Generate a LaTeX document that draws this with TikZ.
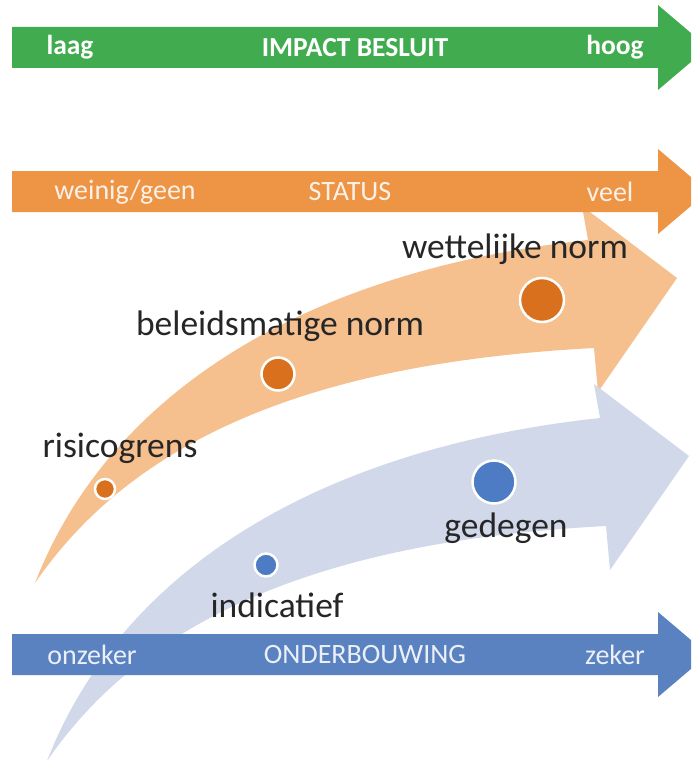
\documentclass[tikz,border=0pt]{standalone}
\usepackage{fontspec}
\setmainfont{Carlito}
\definecolor{impactgreen}{HTML}{40AC4F}
\definecolor{statusorange}{HTML}{ED9445}
\definecolor{lightorange}{HTML}{F5BF8E}
\definecolor{darkorange}{HTML}{D9701E}
\definecolor{basisblue}{HTML}{5B82C0}
\definecolor{lightblue}{HTML}{D0D8E9}
\definecolor{dotblue}{HTML}{4E7CC4}
% straight bar with head: centre y, colour
\newcommand{\bararrow}[2]{%
  \fill[#2] (12,#1-20.5) -- (658,#1-20.5) -- (658,#1-42.5) -- (708,#1)
    -- (658,#1+42.5) -- (658,#1+20.5) -- (12,#1+20.5) -- cycle;}
\begin{document}
\begin{tikzpicture}[x=1pt,y=-1pt,
  bartext/.style={text=white,text opacity=0.88,font=\fontsize{28}{30}\selectfont},
  boldtext/.style={text=white,font=\bfseries\fontsize{27.5}{30}\selectfont},
  normtext/.style={text=black!85,font=\fontsize{35.5}{38}\selectfont},
  odot/.style={circle,fill=darkorange,draw=white,line width=2.5pt,inner sep=0pt},
  bdot/.style={circle,fill=dotblue,draw=white,line width=2.5pt,inner sep=0pt}]
\useasboundingbox (0,0) rectangle (691,760);
\clip (0,0) rectangle (691,760);

% curved arrows
\fill[lightorange] (35,583) .. controls (110,390) and (310,270) .. (588,240)
  -- (582,206) -- (677,278) -- (598,392) -- (594,348)
  .. controls (330,362) and (140,430) .. cycle;
\fill[lightblue, shift={(12,178)}] (35,583) .. controls (110,390) and (310,270) .. (588,240)
  -- (582,206) -- (677,278) -- (598,392) -- (594,348)
  .. controls (330,362) and (140,430) .. cycle;

% straight arrows
\bararrow{47.5}{impactgreen}
\bararrow{191.5}{statusorange}
\bararrow{654.5}{basisblue}

\node[boldtext] (laag) at (70,47.5) {laag};
\node[boldtext] (impact) at (355,47.5) {IMPACT BESLUIT};
\node[boldtext] (hoog) at (615,47.5) {hoog};

\node[bartext] (weinig) at (125,192) {weinig/geen};
\node[bartext] (status) at (350,192) {STATUS};
\node[bartext] (veel) at (610,192) {veel};

\node[bartext] (onzeker) at (92,655) {onzeker};
\node[bartext] (onderbouwing) at (365,655) {ONDERBOUWING};
\node[bartext] (zeker) at (615,655) {zeker};

% dots and labels
\node[odot,minimum size=20pt] (risicodot) at (105,489) {};
\node[odot,minimum size=33pt] (beleiddot) at (278,374) {};
\node[odot,minimum size=44pt] (wetdot) at (542,300) {};
\node[bdot,minimum size=23pt] (indicdot) at (266,565) {};
\node[bdot,minimum size=43pt] (gedegdot) at (494,482) {};

\node[normtext] (risico) at (120,448) {risicogrens};
\node[normtext] (beleid) at (280,326) {beleidsmatige norm};
\node[normtext] (wet) at (515,249) {wettelijke norm};
\node[normtext] (gedegen) at (506,528) {gedegen};
\node[normtext] (indicatief) at (277,605) {indicatief};
\end{tikzpicture}
\end{document}
